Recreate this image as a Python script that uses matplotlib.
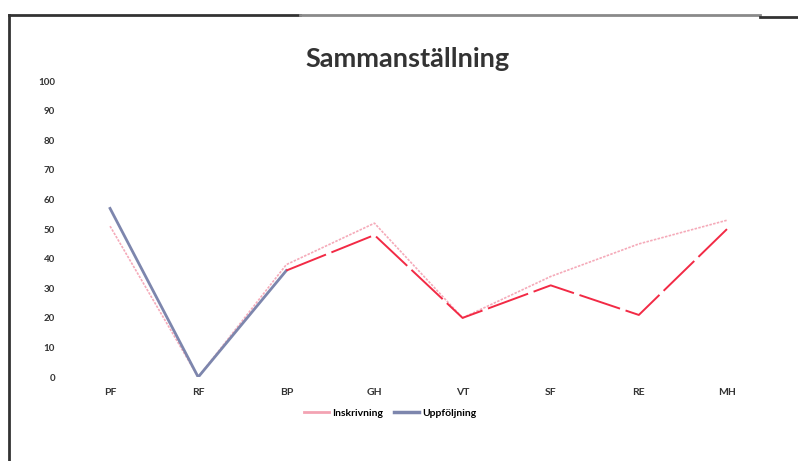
import matplotlib.pyplot as plt
from matplotlib.lines import Line2D

# data
categories = ["PF", "RF", "BP", "GH", "VT", "SF", "RE", "MH"]
inskrivning = [51, 0, 38, 52, 20, 34, 45, 53]
uppfoljning = [57, 0, 36, 48, 20, 31, 21, 50]
yticks = [0, 10, 20, 30, 40, 50, 60, 70, 80, 90, 100]

plt.rcParams['font.family'] = ['Lato', 'DejaVu Sans']

fig = plt.figure(figsize=(7.98, 4.61), dpi=100)
ax = fig.add_axes([0.0827, 0.182, 0.8835, 0.642])

x = list(range(len(categories)))

# Inskrivning - faint pink line
ax.plot(x, inskrivning, color='#f5aab9', linewidth=1.2, linestyle=(0, (1.5, 0.8)))

# Uppföljning - blue-gray in the scan up to BP, red after that
ax.plot(x[:3], uppfoljning[:3], color='#7d86ad', linewidth=2)
ax.plot(x[2:], uppfoljning[2:], color='#f22a45', linewidth=1.4,
        linestyle=(0, (22, 3)))

ax.set_xlim(-0.5, len(categories) - 0.5)
ax.set_ylim(0, 100)
ax.set_yticks(yticks)
ax.set_yticklabels([str(v) for v in yticks], fontsize=7, fontweight='bold', color='#333333')
ax.set_xticks(x)
ax.set_xticklabels(categories, fontsize=7.5, fontweight='bold', color='#333333')
ax.tick_params(axis='y', length=0, pad=8)
ax.tick_params(axis='x', length=0, pad=8)
for s in ax.spines.values():
    s.set_visible(False)

fig.text(0.511, 0.873, "Sammanställning", ha='center', va='center',
         fontsize=19.5, fontweight='bold', color='#333333')

handles = [Line2D([], [], color='#f3a3b3', linewidth=2),
           Line2D([], [], color='#7d86ad', linewidth=2.5)]
fig.legend(handles, ["Inskrivning", "Uppföljning"], loc='center',
           bbox_to_anchor=(0.489, 0.104), ncol=2, frameon=False,
           handlelength=2.4, handletextpad=0.3, columnspacing=1.0,
           prop={'weight': 'bold', 'size': 7.5})

# scanned frame: top and left edges
fig.add_artist(Line2D([0.011, 0.376], [0.967, 0.967], transform=fig.transFigure,
                      color='#333333', linewidth=2))
fig.add_artist(Line2D([0.376, 0.952], [0.967, 0.967], transform=fig.transFigure,
                      color='#8a8a8a', linewidth=2))
fig.add_artist(Line2D([0.952, 1.0], [0.963, 0.963], transform=fig.transFigure,
                      color='#333333', linewidth=2))
fig.add_artist(Line2D([0.011, 0.011], [0.0, 0.967], transform=fig.transFigure,
                      color='#333333', linewidth=2))

fig.savefig("out.png", dpi=100)
